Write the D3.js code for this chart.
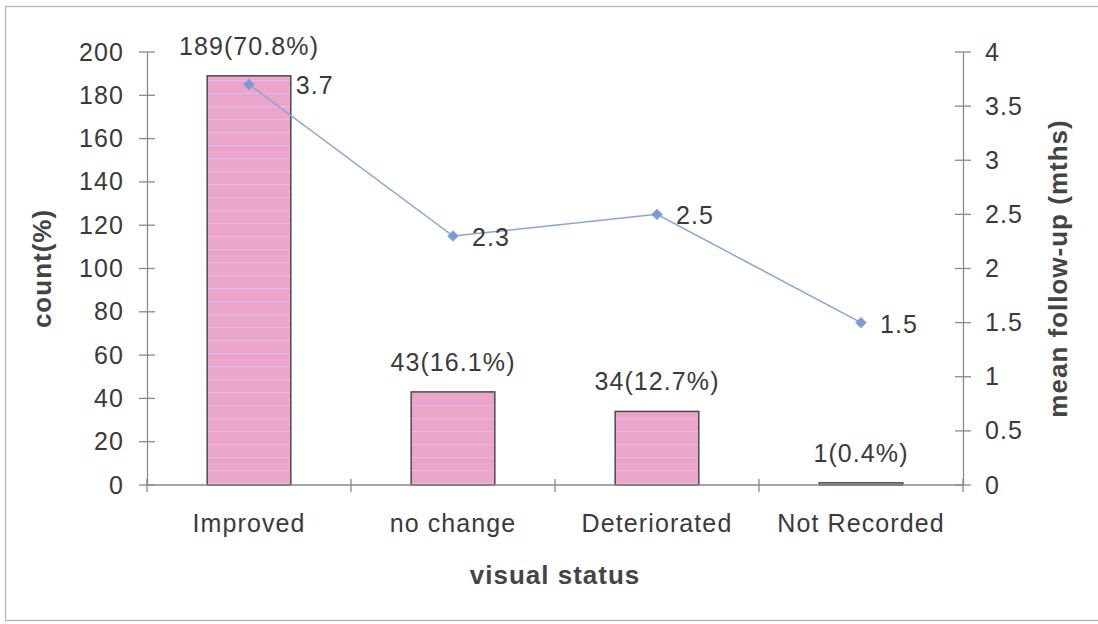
<!DOCTYPE html>
<html>
<head>
<meta charset="utf-8">
<script src="https://cdn.jsdelivr.net/npm/d3@7"></script>
<style>
  html, body { margin: 0; padding: 0; background: #fff; }
  svg { display: block; font-family: "Liberation Sans", Arial, sans-serif; }
</style>
</head>
<body>
<svg id="chart" width="1098" height="624"></svg>
<script>
// Visual status outcome counts with mean follow-up time
const categories = ["Improved", "no change", "Deteriorated", "Not Recorded"];
const counts = [189, 43, 34, 1];
const percents = ["70.8%", "16.1%", "12.7%", "0.4%"];
const followUp = [3.7, 2.3, 2.5, 1.5];
const leftTicks = [0, 20, 40, 60, 80, 100, 120, 140, 160, 180, 200];
const rightTicks = [0, 0.5, 1, 1.5, 2, 2.5, 3, 3.5, 4];

const svg = d3.select("#chart");
const margin = { left: 147, right: 135, top: 52, bottom: 139 };
const W = 1098, H = 624;
const plotW = W - margin.left - margin.right;
const plotH = H - margin.top - margin.bottom;

const textColor = "#3a3a3a";
const axisColor = "#8a8a8a";
const fontSize = 25;
const spacing = 1.1;

// Outer frame
svg.append("rect")
  .attr("x", 5.5).attr("y", 6.5)
  .attr("width", 1100).attr("height", 614)
  .attr("fill", "none").attr("stroke", "#b4b4b4").attr("stroke-width", 1.3);

// Striped pink fill for the bars
const defs = svg.append("defs");
const pat = defs.append("pattern")
  .attr("id", "barFill")
  .attr("patternUnits", "userSpaceOnUse")
  .attr("x", 0).attr("y", 2)
  .attr("width", 10).attr("height", 13);
pat.append("rect").attr("width", 10).attr("height", 13).attr("fill", "#eba5c8");
pat.append("rect").attr("y", 0).attr("width", 10).attr("height", 1.2).attr("fill", "#e4b6f2");

const g = svg.append("g").attr("transform", `translate(${margin.left},${margin.top})`);

const x = d3.scaleBand().domain(categories).range([0, plotW]).paddingInner(0.59).paddingOuter(0.295);
const xCenter = d => x(d) + x.bandwidth() / 2;
const yL = d3.scaleLinear().domain([0, 200]).range([plotH, 0]);
const yR = d3.scaleLinear().domain([0, 4]).range([plotH, 0]);
const step = plotW / categories.length;

function styleText(sel) {
  sel.attr("font-size", fontSize).attr("fill", textColor)
    .attr("letter-spacing", spacing)
    .attr("font-family", "Liberation Sans, Arial, sans-serif");
}

// Left axis
const axL = g.append("g").call(d3.axisLeft(yL).tickValues(leftTicks).tickSize(0).tickPadding(23));
axL.select(".domain").attr("stroke", axisColor).attr("stroke-width", 1.3);
axL.selectAll("text").call(styleText);
g.append("g").selectAll("line").data(leftTicks).join("line")
  .attr("x1", -8).attr("x2", 8)
  .attr("y1", d => yL(d)).attr("y2", d => yL(d))
  .attr("stroke", axisColor).attr("stroke-width", 1.3);

// Right axis
const axR = g.append("g").attr("transform", `translate(${plotW},0)`)
  .call(d3.axisRight(yR).tickValues(rightTicks).tickFormat(d3.format("~g")).tickSize(0).tickPadding(22));
axR.select(".domain").attr("stroke", axisColor).attr("stroke-width", 1.3);
axR.selectAll("text").call(styleText);
g.append("g").selectAll("line").data(rightTicks).join("line")
  .attr("x1", plotW - 8).attr("x2", plotW + 8)
  .attr("y1", d => yR(d)).attr("y2", d => yR(d))
  .attr("stroke", axisColor).attr("stroke-width", 1.3);

// Bars
g.append("g").selectAll("rect").data(categories).join("rect")
  .attr("x", d => x(d))
  .attr("y", (d, i) => yL(counts[i]))
  .attr("width", x.bandwidth())
  .attr("height", (d, i) => plotH - yL(counts[i]))
  .attr("fill", "url(#barFill)")
  .attr("stroke", "#4a4a4a").attr("stroke-width", 1.5);

// Bottom axis with category separators
g.append("line")
  .attr("x1", 0).attr("x2", plotW).attr("y1", plotH).attr("y2", plotH)
  .attr("stroke", axisColor).attr("stroke-width", 1.3);
g.append("g").selectAll("line").data(d3.range(categories.length + 1)).join("line")
  .attr("x1", i => i * step).attr("x2", i => i * step)
  .attr("y1", plotH - 6).attr("y2", plotH + 7)
  .attr("stroke", axisColor).attr("stroke-width", 1.3);
g.append("g").selectAll("text").data(categories).join("text")
  .attr("x", d => xCenter(d))
  .attr("y", plotH + 47)
  .attr("text-anchor", "middle")
  .call(styleText)
  .text(d => d);

// Count labels above bars
g.append("g").selectAll("text").data(categories).join("text")
  .attr("x", d => xCenter(d))
  .attr("y", (d, i) => yL(counts[i]) - 21)
  .attr("text-anchor", "middle")
  .call(styleText)
  .text((d, i) => `${counts[i]}(${percents[i]})`);

// Follow-up line
const line = d3.line().x((d, i) => xCenter(categories[i])).y(d => yR(d));
g.append("path").datum(followUp)
  .attr("d", line)
  .attr("fill", "none").attr("stroke", "#86a5dd").attr("stroke-width", 1.5);
g.append("g").selectAll("path").data(followUp).join("path")
  .attr("transform", (d, i) => `translate(${xCenter(categories[i])},${yR(d)})`)
  .attr("d", d3.symbol(d3.symbolDiamond2, 70))
  .attr("fill", "#7a9ad8").attr("stroke", "#7a9ad8").attr("stroke-width", 0.8);

// Value labels sit right of each marker, pushed clear of a bar that reaches above them
g.append("g").selectAll("text").data(followUp).join("text")
  .attr("x", (d, i) => {
    const c = categories[i];
    let px = xCenter(c) + 19;
    if (yL(counts[i]) < yR(d)) px = Math.max(px, x(c) + x.bandwidth() + 5);
    return px;
  })
  .attr("y", d => yR(d) + 10)
  .call(styleText)
  .text(d => d);

// Axis titles
function styleTitle(sel) {
  sel.attr("text-anchor", "middle")
    .attr("font-size", 26).attr("font-weight", "bold").attr("fill", "#444")
    .attr("letter-spacing", 1);
}
svg.append("text")
  .attr("transform", `translate(51,${margin.top + plotH / 2}) rotate(-90)`)
  .call(styleTitle)
  .text("count(%)");
svg.append("text")
  .attr("transform", `translate(1067,${margin.top + plotH / 2}) rotate(-90)`)
  .call(styleTitle)
  .text("mean follow-up (mths)");
svg.append("text")
  .attr("x", margin.left + plotW / 2)
  .attr("y", 584)
  .call(styleTitle)
  .text("visual status");
</script>
</body>
</html>
